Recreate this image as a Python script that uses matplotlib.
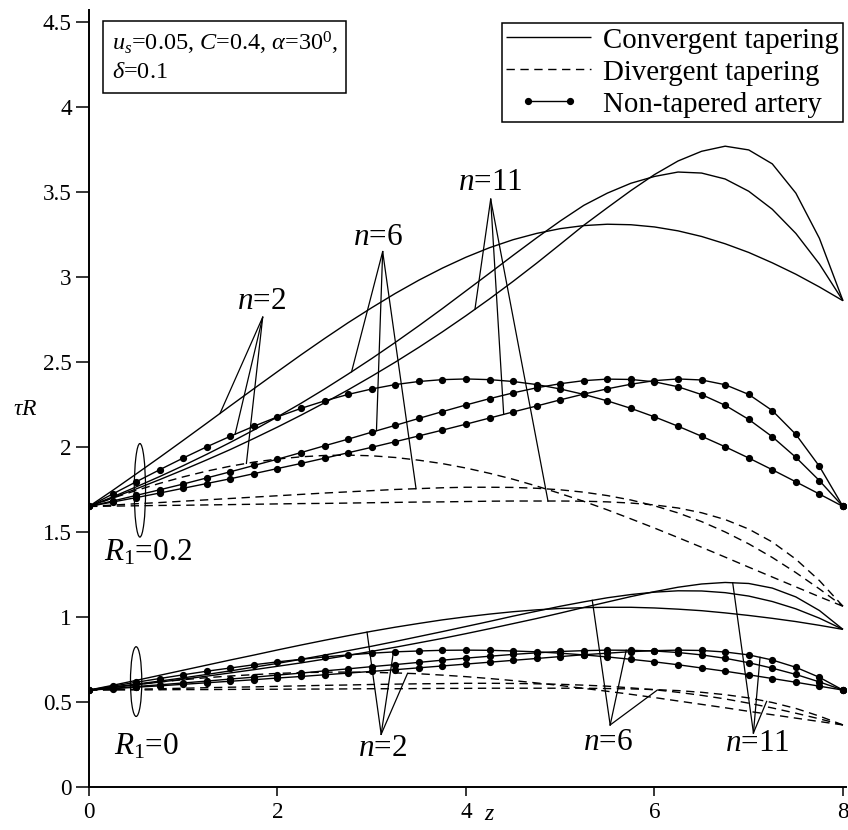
import numpy as np
import matplotlib
matplotlib.use("Agg")
import matplotlib.pyplot as plt
from matplotlib.patches import Ellipse, Rectangle
from matplotlib.legend_handler import HandlerLine2D

plt.rcParams['font.family'] = ['Liberation Serif', 'DejaVu Serif']
plt.rcParams['mathtext.fontset'] = 'custom'
plt.rcParams['mathtext.rm'] = 'Liberation Serif'
plt.rcParams['mathtext.it'] = 'Liberation Serif:italic'
plt.rcParams['mathtext.bf'] = 'Liberation Serif:bold'

# axial position along the artery
z = np.linspace(0.0, 8.0, 33)

# ---- R1 = 0.2 ----
conv_n2_r02 = [1.650, 1.744, 1.841, 1.939, 2.039, 2.140, 2.242, 2.343, 2.443, 2.542, 2.638,
               2.731, 2.819, 2.903, 2.981, 3.052, 3.116, 3.172, 3.219, 3.256, 3.284, 3.302,
               3.310, 3.307, 3.294, 3.271, 3.238, 3.195, 3.144, 3.083, 3.016, 2.941, 2.860]
conv_n6_r02 = [1.650, 1.706, 1.765, 1.826, 1.890, 1.957, 2.027, 2.100, 2.177, 2.257, 2.341,
               2.429, 2.520, 2.615, 2.713, 2.814, 2.918, 3.022, 3.127, 3.230, 3.329, 3.421,
               3.493, 3.551, 3.591, 3.617, 3.611, 3.576, 3.504, 3.398, 3.256, 3.076, 2.860]
conv_n11_r02 = [1.650, 1.701, 1.753, 1.808, 1.865, 1.924, 1.985, 2.050, 2.117, 2.187, 2.260,
                2.336, 2.416, 2.499, 2.586, 2.677, 2.772, 2.871, 2.974, 3.081, 3.192, 3.304,
                3.407, 3.508, 3.602, 3.682, 3.739, 3.769, 3.747, 3.665, 3.493, 3.227, 2.860]
nt_n2_r02 = [1.650, 1.723, 1.795, 1.866, 1.935, 2.001, 2.063, 2.122, 2.177, 2.227, 2.271,
             2.309, 2.341, 2.367, 2.385, 2.396, 2.400, 2.396, 2.385, 2.367, 2.341, 2.309,
             2.271, 2.227, 2.177, 2.122, 2.063, 2.001, 1.935, 1.866, 1.795, 1.723, 1.650]
nt_n6_r02 = [1.650, 1.682, 1.715, 1.748, 1.782, 1.818, 1.854, 1.891, 1.928, 1.967, 2.007,
             2.046, 2.087, 2.127, 2.168, 2.208, 2.247, 2.284, 2.318, 2.348, 2.372, 2.390,
             2.399, 2.397, 2.383, 2.354, 2.308, 2.245, 2.162, 2.060, 1.939, 1.802, 1.650]
nt_n11_r02 = [1.650, 1.676, 1.702, 1.729, 1.757, 1.785, 1.813, 1.843, 1.873, 1.903, 1.934,
              1.966, 1.998, 2.031, 2.065, 2.099, 2.134, 2.170, 2.206, 2.241, 2.277, 2.311,
              2.342, 2.369, 2.390, 2.400, 2.394, 2.366, 2.309, 2.214, 2.074, 1.886, 1.650]
div_n2_r02 = [1.650, 1.699, 1.744, 1.786, 1.824, 1.858, 1.887, 1.911, 1.929, 1.942, 1.950,
              1.952, 1.948, 1.938, 1.922, 1.902, 1.876, 1.845, 1.810, 1.770, 1.726, 1.680,
              1.630, 1.577, 1.523, 1.467, 1.410, 1.352, 1.293, 1.235, 1.177, 1.119, 1.063]
div_n6_r02 = [1.650, 1.658, 1.666, 1.673, 1.681, 1.689, 1.697, 1.705, 1.713, 1.721, 1.729,
              1.736, 1.743, 1.750, 1.755, 1.760, 1.763, 1.763, 1.762, 1.757, 1.748, 1.734,
              1.714, 1.688, 1.654, 1.612, 1.561, 1.500, 1.430, 1.350, 1.261, 1.165, 1.063]
div_n11_r02 = [1.650, 1.652, 1.654, 1.656, 1.657, 1.659, 1.661, 1.663, 1.665, 1.667, 1.668,
               1.670, 1.672, 1.674, 1.676, 1.677, 1.679, 1.681, 1.682, 1.682, 1.682, 1.681,
               1.677, 1.670, 1.659, 1.641, 1.613, 1.573, 1.517, 1.441, 1.340, 1.214, 1.063]

# ---- R1 = 0 ----
conv_n2_r0 = [0.570, 0.598, 0.627, 0.657, 0.687, 0.717, 0.747, 0.776, 0.806, 0.835, 0.863,
              0.890, 0.916, 0.940, 0.962, 0.983, 1.001, 1.017, 1.031, 1.042, 1.050, 1.055,
              1.057, 1.057, 1.053, 1.046, 1.037, 1.024, 1.009, 0.992, 0.973, 0.951, 0.927]
conv_n6_r0 = [0.570, 0.587, 0.605, 0.623, 0.642, 0.662, 0.683, 0.705, 0.727, 0.751, 0.776,
              0.802, 0.828, 0.856, 0.885, 0.914, 0.944, 0.974, 1.005, 1.034, 1.063, 1.089,
              1.113, 1.132, 1.146, 1.154, 1.153, 1.143, 1.123, 1.091, 1.048, 0.993, 0.927]
conv_n11_r0 = [0.570, 0.585, 0.601, 0.617, 0.634, 0.652, 0.671, 0.690, 0.710, 0.730, 0.752,
               0.774, 0.798, 0.822, 0.848, 0.874, 0.902, 0.931, 0.961, 0.991, 1.023, 1.056,
               1.088, 1.120, 1.149, 1.175, 1.194, 1.203, 1.197, 1.170, 1.118, 1.038, 0.927]
nt_n2_r0 = [0.570, 0.593, 0.616, 0.638, 0.660, 0.681, 0.700, 0.719, 0.736, 0.751, 0.765,
            0.777, 0.787, 0.795, 0.800, 0.804, 0.805, 0.804, 0.800, 0.795, 0.787, 0.777,
            0.765, 0.751, 0.736, 0.719, 0.700, 0.681, 0.660, 0.638, 0.616, 0.593, 0.570]
nt_n6_r0 = [0.570, 0.580, 0.591, 0.601, 0.612, 0.623, 0.635, 0.646, 0.658, 0.670, 0.683,
            0.695, 0.708, 0.720, 0.733, 0.746, 0.758, 0.769, 0.780, 0.789, 0.797, 0.802,
            0.805, 0.804, 0.800, 0.791, 0.777, 0.757, 0.731, 0.699, 0.662, 0.618, 0.570]
nt_n11_r0 = [0.570, 0.578, 0.587, 0.595, 0.604, 0.613, 0.622, 0.631, 0.641, 0.650, 0.660,
             0.670, 0.680, 0.690, 0.701, 0.712, 0.723, 0.734, 0.745, 0.756, 0.767, 0.778,
             0.787, 0.796, 0.802, 0.805, 0.803, 0.794, 0.777, 0.747, 0.704, 0.645, 0.570]
div_n2_r0 = [0.570, 0.587, 0.603, 0.618, 0.631, 0.643, 0.653, 0.661, 0.668, 0.673, 0.675,
             0.676, 0.674, 0.671, 0.666, 0.658, 0.649, 0.638, 0.626, 0.612, 0.597, 0.580,
             0.563, 0.545, 0.526, 0.506, 0.486, 0.466, 0.445, 0.425, 0.405, 0.385, 0.365]
div_n6_r0 = [0.570, 0.573, 0.575, 0.578, 0.581, 0.584, 0.587, 0.589, 0.592, 0.595, 0.598,
             0.600, 0.603, 0.605, 0.607, 0.608, 0.610, 0.610, 0.609, 0.607, 0.604, 0.599,
             0.593, 0.583, 0.572, 0.557, 0.539, 0.518, 0.493, 0.465, 0.434, 0.401, 0.365]
div_n11_r0 = [0.570, 0.571, 0.571, 0.572, 0.573, 0.573, 0.574, 0.575, 0.575, 0.576, 0.576,
              0.577, 0.578, 0.578, 0.579, 0.580, 0.580, 0.581, 0.581, 0.581, 0.581, 0.581,
              0.579, 0.577, 0.573, 0.567, 0.557, 0.543, 0.524, 0.497, 0.462, 0.417, 0.365]

x_ticks = [0, 2, 4, 6, 8]
x_tick_labels = ['0', '2', '4', '6', '8']
y_ticks = [0, 0.5, 1, 1.5, 2, 2.5, 3, 3.5, 4, 4.5]
y_tick_labels = ['0', '0.5', '1', '1.5', '2', '2.5', '3', '3.5', '4', '4.5']

W, H = 848, 830
fig = plt.figure(figsize=(W / 100, H / 100), dpi=100)
ax = fig.add_axes([89 / W, 1 - 787 / H, (845.8 - 89) / W, (787 - 10) / H])
ax.set_xlim(0, 8.03)
ax.set_ylim(0, 4.57)

for side in ('top', 'right'):
    ax.spines[side].set_visible(False)
for side in ('left', 'bottom'):
    ax.spines[side].set_linewidth(1.4)
    ax.spines[side].set_color('black')

ax.set_xticks(x_ticks)
ax.set_xticklabels(x_tick_labels)
ax.set_yticks(y_ticks)
ax.set_yticklabels(y_tick_labels)
ax.tick_params(axis='y', direction='out', length=9.4, width=1.1, pad=3, labelsize=16.7)
ax.tick_params(axis='x', direction='out', length=6.5, width=1.1, pad=4, labelsize=16.7)

LW = 1.0
dash = (0, (6, 4))

conv = [conv_n2_r02, conv_n6_r02, conv_n11_r02, conv_n2_r0, conv_n6_r0, conv_n11_r0]
div = [div_n2_r02, div_n6_r02, div_n11_r02, div_n2_r0, div_n6_r0, div_n11_r0]
nt = [nt_n2_r02, nt_n6_r02, nt_n11_r02, nt_n2_r0, nt_n6_r0, nt_n11_r0]

h_conv = h_div = h_nt = None
for s in conv:
    h_conv, = ax.plot(z, s, color='black', lw=LW, solid_capstyle='butt')
for s in div:
    h_div, = ax.plot(z, s, color='black', lw=LW, ls=dash)
for s in nt:
    h_nt, = ax.plot(z, s, color='black', lw=LW, marker='o', ms=4.2,
                    markerfacecolor='black', markeredgecolor='black')

# pointer lines from each n label to the curves of that index
ALW = 0.9
pointers = [
    # apex (z, tau), [(series, z_end), ...]
    ((1.843, 2.763), [(conv_n2_r02, 1.39), (nt_n2_r02, 1.55), (div_n2_r02, 1.67)]),
    ((3.116, 3.149), [(conv_n6_r02, 2.786), (nt_n6_r02, 3.05), (div_n6_r02, 3.47)]),
    ((4.262, 3.457), [(conv_n11_r02, 4.095), (nt_n11_r02, 4.40), (div_n11_r02, 4.87)]),
    ((3.10, 0.31), [(conv_n2_r0, 2.95), (nt_n2_r0, 3.23), (div_n2_r0, 3.38)]),
    ((5.53, 0.365), [(conv_n6_r0, 5.34), (nt_n6_r0, 5.70), (div_n6_r0, 6.03)]),
    ((7.05, 0.318), [(conv_n11_r0, 6.83), (nt_n11_r0, 7.12), (div_n11_r0, 7.19)]),
]
for (az, at), ends in pointers:
    for s, ze in ends:
        ax.plot([az, ze], [at, np.interp(ze, z, s)], color='black', lw=ALW)

LFS = 22.5
labels = [
    (1.835, 2.853, r'$n$=2'),
    (3.066, 3.229, r'$n$=6'),
    (4.255, 3.553, r'$n$=11'),
    (3.12, 0.225, r'$n$=2'),
    (5.51, 0.26, r'$n$=6'),
    (7.09, 0.253, r'$n$=11'),
]
for lx, ly, txt in labels:
    ax.text(lx, ly, txt, fontsize=LFS, ha='center', va='center')

# R1 markers
ax.add_patch(Ellipse((0.54, 1.745), 0.12, 0.55, fill=False, color='black', lw=ALW))
ax.add_patch(Ellipse((0.50, 0.62), 0.12, 0.41, fill=False, color='black', lw=ALW))
ax.text(0.63, 1.376, r'$R_{\mathit{1}}$=0.2', fontsize=LFS, ha='center', va='center')
ax.text(0.615, 0.235, r'$R_{\mathit{1}}$=0', fontsize=LFS, ha='center', va='center')

# axis captions
fig.text(25 / W, 1 - 409 / H, r'$\tau R$', fontsize=17, ha='center', va='center')
fig.text(490 / W, 1 - 814 / H, r'$z$', fontsize=17, ha='center', va='center')

# parameter box
fig.add_artist(Rectangle((103 / W, 1 - 93 / H), 243 / W, 72 / H, fill=False,
                         edgecolor='black', lw=1.1, transform=fig.transFigure))
fig.text(112 / W, 1 - 43 / H, r'$u_s$=0.05, $C$=0.4, $\alpha$=$30^0$,', fontsize=17.5,
         ha='left', va='center')
fig.text(112 / W, 1 - 73 / H, r'$\delta$=0.1', fontsize=17.5, ha='left', va='center')

leg = ax.legend([h_conv, h_div, h_nt],
                ['Convergent tapering', 'Divergent tapering', 'Non-tapered artery'],
                loc='upper right', bbox_to_anchor=(843 / W, 1 - 23 / H),
                bbox_transform=fig.transFigure, borderaxespad=0, borderpad=0.15,
                labelspacing=0.2, handlelength=2.95, handletextpad=0.4, fontsize=20.8,
                fancybox=False, framealpha=1, edgecolor='black',
                handler_map={h_nt: HandlerLine2D(numpoints=2, marker_pad=0.75)})
leg.get_frame().set_linewidth(1.1)

fig.savefig('out.png', dpi=100)
